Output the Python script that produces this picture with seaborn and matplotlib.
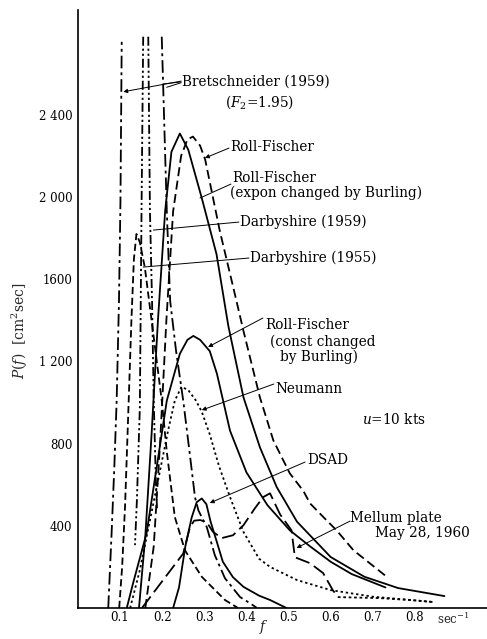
import numpy as np
import pandas as pd
import matplotlib
matplotlib.use("Agg")
import matplotlib.pyplot as plt
import matplotlib.transforms as mtransforms
import seaborn as sns

# ---------------- data ----------------
# Bretschneider (1959), F2 = 1.95 : peak runs off the top of the chart
bret_rise_f = [0.072, 0.080, 0.0864, 0.092, 0.0975, 0.101, 0.104]
bret_rise_P = [0, 364, 684, 1009, 1494, 1979, 2755]
bret_fall_f = [0.199, 0.211, 0.219, 0.233, 0.250, 0.266, 0.278, 0.286, 0.306, 0.325, 0.349, 0.385, 0.408, 0.425]
bret_fall_P = [2780, 1930, 1494, 1251, 1009, 742, 538, 475, 393, 257, 145, 53, 24, 0]

# Darbyshire (1959) : very narrow, band-limited
darb59_left_f = [0.155, 0.151, 0.147, 0.140, 0.1355]
darb59_left_P = [2780, 1930, 975, 524, 306]
darb59_right_f = [0.167, 0.171, 0.176, 0.180, 0.185, 0.188]
darb59_right_P = [2780, 1930, 1494, 1009, 621, 475]

# Darbyshire (1955)
darb55_f = [0.098, 0.105, 0.112, 0.12, 0.127, 0.133, 0.139, 0.147, 0.159, 0.179, 0.199, 0.211, 0.23, 0.254, 0.294, 0.349, 0.38]
darb55_P = [0, 200, 500, 975, 1400, 1700, 1820, 1780, 1655, 1334, 1009, 760, 443, 281, 152, 39, 0]

# Neumann
neu_f = [0.124, 0.147, 0.171, 0.195, 0.214, 0.23, 0.246, 0.262, 0.28, 0.294, 0.313, 0.335, 0.361, 0.393, 0.43, 0.456, 0.52, 0.6, 0.7, 0.84]
neu_P = [0, 184, 427, 669, 863, 1009, 1077, 1060, 1010, 955, 845, 690, 540, 370, 240, 200, 136, 87, 55, 30]

# Roll-Fischer (const changed by Burling)
rfc_f = [0.116, 0.131, 0.163, 0.187, 0.211, 0.242, 0.26, 0.274, 0.29, 0.313, 0.33, 0.361, 0.40, 0.45, 0.503, 0.551, 0.6, 0.65, 0.73]
rfc_P = [0, 121, 364, 685, 1009, 1237, 1305, 1324, 1305, 1250, 1140, 863, 660, 500, 378, 300, 225, 165, 100]

# Roll-Fischer (expon changed by Burling)
rfe_f = [0.145, 0.16, 0.175, 0.19, 0.207, 0.222, 0.242, 0.262, 0.294, 0.329, 0.357, 0.393, 0.432, 0.472, 0.52, 0.6, 0.68, 0.76, 0.87]
rfe_P = [0, 350, 850, 1400, 1930, 2220, 2309, 2230, 1995, 1722, 1373, 1025, 782, 588, 420, 248, 152, 97, 58]

# Roll-Fischer
rf_f = [0.16, 0.18, 0.195, 0.21, 0.226, 0.245, 0.26, 0.273, 0.29, 0.302, 0.337, 0.369, 0.393, 0.432, 0.464, 0.503, 0.535, 0.551, 0.59, 0.614, 0.654, 0.733]
rf_P = [0, 300, 800, 1400, 1930, 2200, 2280, 2294, 2250, 2183, 1833, 1558, 1348, 1025, 815, 655, 570, 509, 427, 378, 281, 152]

# DSAD
dsad_f = [0.226, 0.24, 0.255, 0.27, 0.282, 0.294, 0.305, 0.315, 0.33, 0.344, 0.368, 0.393, 0.43, 0.456, 0.495]
dsad_P = [0, 100, 300, 440, 515, 533, 505, 420, 320, 225, 150, 103, 60, 39, 0]

# Mellum plate, May 28 1960 (measured)
mel_f = [0.152, 0.2, 0.25, 0.266, 0.276, 0.29, 0.306, 0.32, 0.341, 0.368, 0.393, 0.42, 0.44, 0.456, 0.48, 0.507, 0.515, 0.551, 0.582, 0.605, 0.617]
mel_P = [0, 130, 265, 394, 425, 428, 417, 372, 340, 354, 403, 485, 540, 558, 455, 378, 247, 218, 170, 87, 53]
mel_tail_f = [0.617, 0.717, 0.788, 0.843]
mel_tail_P = [53, 48, 39, 29]

x_ticks = [0.1, 0.2, 0.3, 0.4, 0.5, 0.6, 0.7, 0.8]
x_tick_labels = ["0.1", "0.2", "0.3", "0.4", "0.5", "0.6", "0.7", "0.8"]
y_ticks = [400, 800, 1200, 1600, 2000, 2400]
y_tick_labels = ["400", "800", "1 200", "1600", "2 000", "2 400"]

# ---------------- figure ----------------
sns.set_style("white")
plt.rcParams["font.family"] = ["DejaVu Serif"]
plt.rcParams["mathtext.fontset"] = "dejavuserif"

fig = plt.figure(figsize=(4.87, 6.39), dpi=100)
ax = fig.add_axes([77.9 / 487, 1 - 608 / 639, (487 - 77.9) / 487, (608 - 10) / 639])

K = "black"
def draw(f, P, ls, lw=1.3):
    df = pd.DataFrame({"f": f, "P": P})
    sns.lineplot(data=df, x="f", y="P", ax=ax, color=K, linestyle=ls, lw=lw,
                 sort=False, estimator=None)

dashdot = (0, (7, 2.2, 1.6, 2.2))
dashdotdot = (0, (5, 1.6, 1.2, 1.6, 1.2, 1.6))
draw(bret_rise_f, bret_rise_P, dashdot)
draw(bret_fall_f, bret_fall_P, dashdot)
draw(darb59_left_f, darb59_left_P, dashdotdot)
draw(darb59_right_f, darb59_right_P, dashdotdot)
draw(darb55_f, darb55_P, (0, (4, 2)))
draw(neu_f, neu_P, (0, (1.3, 1.6)))
draw(rfc_f, rfc_P, "-")
draw(rfe_f, rfe_P, "-")
draw(rf_f, rf_P, (0, (5, 2.5)))
draw(dsad_f, dsad_P, "-")
draw(mel_f, mel_P, (0, (8, 3)))
draw(mel_tail_f, mel_tail_P, (0, (1.5, 1.5)))

ax.set_xlim(0, 0.971)
ax.set_ylim(0, 2910)
ax.set_xticks(x_ticks)
ax.set_xticklabels(x_tick_labels)
ax.set_yticks(y_ticks)
ax.set_yticklabels(y_tick_labels)
ax.tick_params(axis="both", direction="in", colors=K, labelsize=8.5, width=1.0)
ax.tick_params(axis="y", length=6, pad=4)
ax.tick_params(axis="x", length=4, pad=2)
for s in ["top", "right"]:
    ax.spines[s].set_visible(False)
for s in ["left", "bottom"]:
    ax.spines[s].set_color(K)
    ax.spines[s].set_linewidth(1.2)

ax.set_xlabel("$f$", fontsize=10)
ax.xaxis.label.set_verticalalignment("bottom")
ax.xaxis.set_label_coords(0.455, -0.0475)
ax.set_ylabel("$P(f)$  [cm$^2$sec]", fontsize=10)
ax.yaxis.set_label_coords(-0.117, 0.463)

trans = mtransforms.blended_transform_factory(ax.transData, ax.transAxes)
ax.annotate("sec$^{-1}$", xy=(0.852, 0), xycoords=trans, xytext=(0, -2),
            textcoords="offset points", ha="left", va="top", fontsize=8.5)

fs = 9.8
texts = [
    (0.247, 2559, "Bretschneider (1959)"),
    (0.349, 2462, "($F_2$=1.95)"),
    (0.361, 2243, "Roll-Fischer"),
    (0.366, 2092, "Roll-Fischer"),
    (0.361, 2019, "(expon changed by Burling)"),
    (0.385, 1878, "Darbyshire (1959)"),
    (0.408, 1703, "Darbyshire (1955)"),
    (0.444, 1377, "Roll-Fischer"),
    (0.456, 1294, "(const changed"),
    (0.480, 1221, "by Burling)"),
    (0.468, 1066, "Neumann"),
    (0.674, 915, "$u$=10 kts"),
    (0.544, 720, "DSAD"),
    (0.646, 438, "Mellum plate"),
    (0.705, 365, "May 28, 1960"),
]
for x, y, t in texts:
    ax.text(x, y, t, ha="left", va="center", fontsize=fs, color=K)

arrow = dict(arrowstyle="-|>", lw=0.7, color=K, shrinkA=0, shrinkB=0, mutation_scale=6)
plain = dict(arrowstyle="-", lw=0.7, color=K, shrinkA=0, shrinkB=0)
leaders = [
    ((0.245, 2564), (0.1077, 2512), arrow),
    ((0.245, 2560), (0.2027, 2550), plain),
    ((0.245, 2556), (0.2107, 2534), plain),
    ((0.3586, 2238), (0.3016, 2190), arrow),
    ((0.3633, 2063), (0.2898, 1995), plain),
    ((0.382, 1878), (0.179, 1839), plain),
    ((0.406, 1703), (0.155, 1659), plain),
    ((0.439, 1411), (0.309, 1270), arrow),
    ((0.465, 1090), (0.294, 963), arrow),
    ((0.539, 710), (0.313, 511), arrow),
    ((0.646, 423), (0.519, 292), arrow),
]
for start, tip, props in leaders:
    ax.annotate("", xy=tip, xytext=start, arrowprops=props)

fig.savefig("out.png", dpi=100, facecolor="white")
